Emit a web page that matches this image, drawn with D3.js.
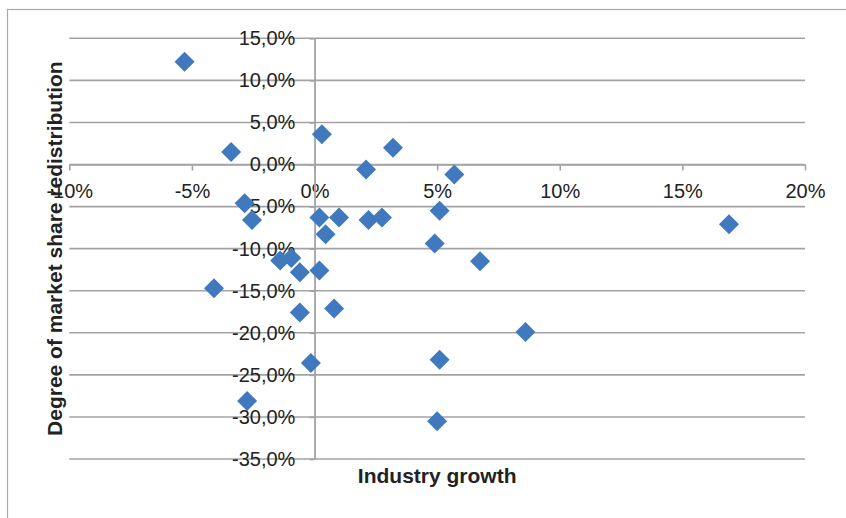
<!DOCTYPE html>
<html>
<head>
<meta charset="utf-8">
<script src="https://cdn.jsdelivr.net/npm/d3@7"></script>
<style>
  html, body { margin: 0; padding: 0; background: #fff; }
  svg { display: block; font-family: "Liberation Sans", Arial, sans-serif; }
</style>
</head>
<body>
<svg id="chart" width="846" height="518"></svg>
<script>
// Industry growth (%) per industry
const industryGrowth = [
  -5.3, -3.4, 0.3, 3.2, 2.1, 5.7, -2.85, -2.55, 0.2, 1.0,
  2.2, 2.75, 5.1, 0.45, 4.9, 16.9, -1.4, -0.95, -0.6, 0.2,
  6.75, -4.1, -0.6, 0.8, 8.6, -0.15, 5.1, -2.75, 5.0
];
// Degree of market share redistribution (%) per industry
const shareRedistribution = [
  12.2, 1.5, 3.6, 2.0, -0.6, -1.2, -4.6, -6.6, -6.3, -6.3,
  -6.6, -6.3, -5.5, -8.3, -9.4, -7.1, -11.4, -11.1, -12.8, -12.6,
  -11.5, -14.7, -17.6, -17.1, -19.9, -23.6, -23.2, -28.1, -30.5
];

const xTicks = [-10, -5, 0, 5, 10, 15, 20];
const xTickLabels = ["-10%", "-5%", "0%", "5%", "10%", "15%", "20%"];
const yTicks = [15, 10, 5, 0, -5, -10, -15, -20, -25, -30, -35];
const yTickLabels = ["15,0%", "10,0%", "5,0%", "0,0%", "-5,0%", "-10,0%", "-15,0%",
                     "-20,0%", "-25,0%", "-30,0%", "-35,0%"];

const points = industryGrowth.map((g, i) => ({ x: g, y: shareRedistribution[i] }));

const svg = d3.select("#chart");
const plot = { left: 69.3, right: 805, top: 38.3, bottom: 459 };

const x = d3.scaleLinear().domain([-10, 20]).range([plot.left, plot.right]);
const y = d3.scaleLinear().domain([-35, 15]).range([plot.bottom, plot.top]);

const gridColor = "#a3a3a6";
const textColor = "#222222";

// chart frame
svg.append("rect")
  .attr("x", 7.5).attr("y", 9.5)
  .attr("width", 900).attr("height", 600)
  .attr("fill", "none").attr("stroke", "#a9a9a9").attr("stroke-width", 1.2);

// horizontal gridlines
svg.append("g").selectAll("line")
  .data(yTicks)
  .join("line")
  .attr("x1", plot.left).attr("x2", plot.right)
  .attr("y1", d => y(d)).attr("y2", d => y(d))
  .attr("stroke", gridColor).attr("stroke-width", 1.6);

// x axis along the zero line
const xAxis = d3.axisBottom(x)
  .tickValues(xTicks)
  .tickFormat((d, i) => xTickLabels[i])
  .tickSize(6).tickSizeOuter(0).tickPadding(12.8);

const gx = svg.append("g")
  .attr("transform", `translate(0,${y(0)})`)
  .call(xAxis);
gx.select(".domain").attr("stroke", gridColor).attr("stroke-width", 1.6);
gx.selectAll(".tick line").attr("stroke", gridColor).attr("stroke-width", 1.6);
gx.selectAll(".tick text")
  .attr("fill", textColor)
  .style("font-size", "20px")
  .style("font-family", "Liberation Sans, Arial, sans-serif");

// y axis along the zero line
const yAxis = d3.axisLeft(y)
  .tickValues(yTicks)
  .tickFormat((d, i) => yTickLabels[i])
  .tickSize(5).tickSizeOuter(0).tickPadding(14.2);

const gy = svg.append("g")
  .attr("transform", `translate(${x(0)},0)`)
  .call(yAxis);
gy.select(".domain").attr("stroke", gridColor).attr("stroke-width", 1.8);
gy.selectAll(".tick line").attr("stroke", gridColor).attr("stroke-width", 1.6);
gy.selectAll(".tick text")
  .attr("fill", textColor)
  .style("font-size", "20px")
  .style("font-family", "Liberation Sans, Arial, sans-serif");

// data markers: rotated squares
const diamond = d3.symbol().type(d3.symbolSquare).size(200);
svg.append("g").selectAll("path")
  .data(points)
  .join("path")
  .attr("d", diamond)
  .attr("transform", d => `translate(${x(d.x)},${y(d.y)}) rotate(45)`)
  .attr("fill", "#4079bd");

// axis titles
svg.append("text")
  .attr("x", (plot.left + plot.right) / 2).attr("y", 483)
  .attr("text-anchor", "middle")
  .attr("fill", textColor)
  .style("font-size", "21px").style("font-weight", "bold")
  .text("Industry growth");

svg.append("text")
  .attr("transform", `translate(61.5,${(plot.top + plot.bottom) / 2}) rotate(-90)`)
  .attr("text-anchor", "middle")
  .attr("fill", textColor)
  .style("font-size", "21px").style("font-weight", "bold")
  .text("Degree of market share redistribution");
</script>
</body>
</html>
